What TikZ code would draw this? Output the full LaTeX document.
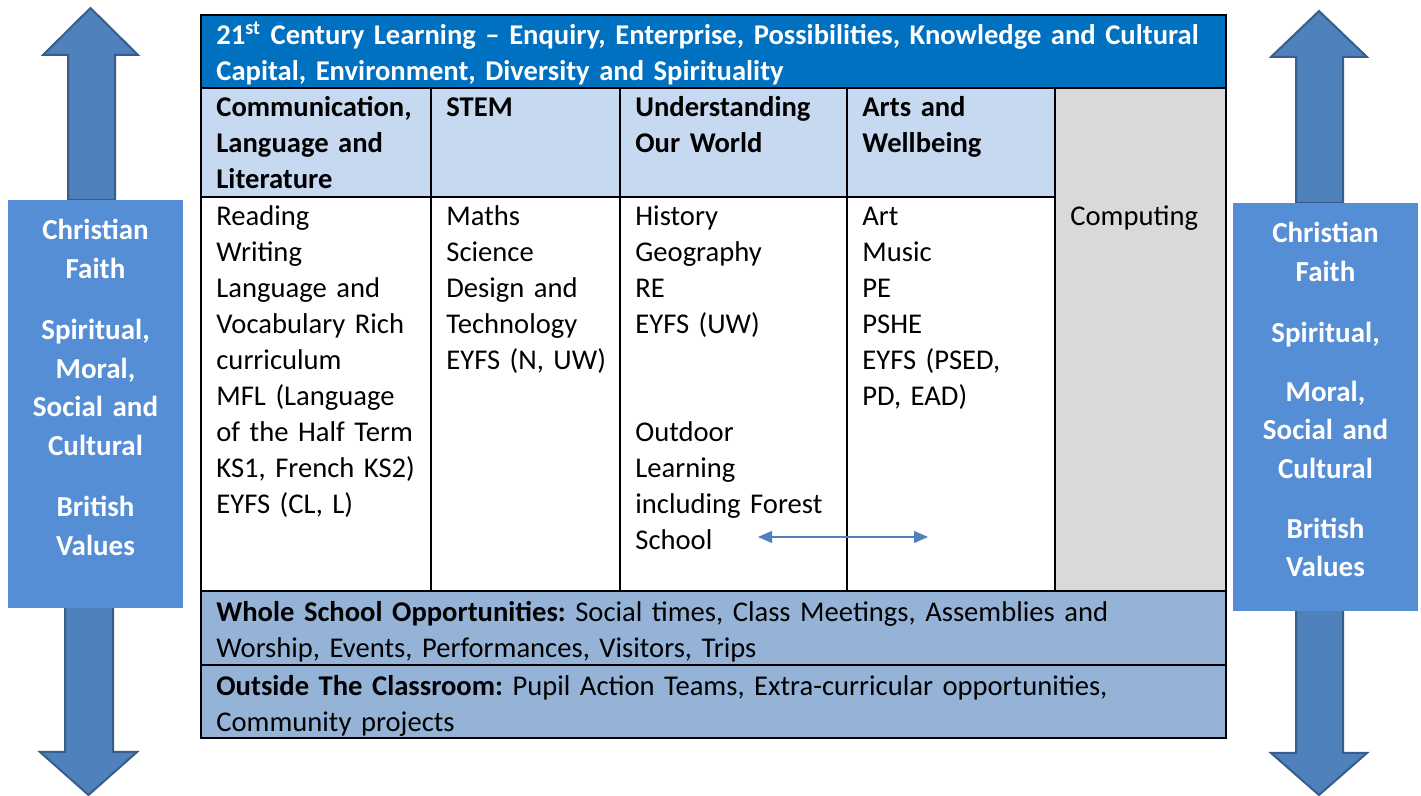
\documentclass[tikz,border=0pt]{standalone}
\usepackage{fontspec}
\setmainfont{Carlito}
\frenchspacing
\usetikzlibrary{arrows.meta}
\definecolor{titleblue}{HTML}{0070C0}
\definecolor{headblue}{HTML}{C6D9F1}
\definecolor{rowblue}{HTML}{95B3D7}
\definecolor{panelblue}{HTML}{558ED5}
\definecolor{arrowblue}{HTML}{4F81BD}
\definecolor{arrowedge}{HTML}{385D8A}
\definecolor{compgray}{HTML}{D9D9D9}
\newcommand{\bodyfont}{\fontsize{14.3}{18}\selectfont}
\newcommand{\panelfont}{\fontsize{14.5}{19.25}\selectfont\bfseries}
\tikzstyle{cell} = [anchor=base west, inner sep=0pt, align=left, text width=110pt, font=\bodyfont]
\tikzstyle{head} = [cell, font=\bodyfont\bfseries]
\tikzstyle{panel} = [anchor=base, inner sep=0pt, align=center, text width=85pt, font=\panelfont, text=white]
\tikzstyle{bigarrow} = [fill=arrowblue, draw=arrowedge, line width=1pt]
\tikzstyle{grid} = [line width=1pt, draw=black]
\tikzstyle{arrow} = [arrowblue, line width=0.6pt, {Triangle[length=7pt,width=6pt]}-{Triangle[length=7pt,width=6pt]}]

\begin{document}
\begin{tikzpicture}[x=0.5pt, y=-0.5pt]
        \useasboundingbox (0,0) rectangle (1421,796);

        % big arrows behind the side panels
        \draw[bigarrow] (68,200) -- (68,55) -- (43,55) -- (90.5,8) -- (138,55) -- (115,55) -- (115,200) -- cycle;
        \draw[bigarrow] (65,606) -- (65,752) -- (40,752) -- (88.5,795) -- (137,752) -- (113,752) -- (113,606) -- cycle;
        \draw[bigarrow] (1296,203) -- (1296,57) -- (1271,57) -- (1319,11) -- (1367,57) -- (1343,57) -- (1343,203) -- cycle;
        \draw[bigarrow] (1296,606) -- (1296,753) -- (1271,753) -- (1319,795) -- (1367,753) -- (1343,753) -- (1343,606) -- cycle;

        % side panels
        \fill[panelblue] (8,200) rectangle (183,608);
        \fill[panelblue] (1233,203) rectangle (1418,611);
        \node[panel] (leftvals) at (95.5,240) {Christian\\Faith\\[11.5pt]Spiritual,\\Moral,\\Social and\\Cultural\\[11.5pt]British\\Values};
        \node[panel] (rightvals) at (1325.5,243) {Christian\\Faith\\[11.25pt]Spiritual,\\[10.25pt]Moral,\\Social and\\Cultural\\[10.75pt]British\\Values};

        % table fills
        \fill[titleblue] (201,15) rectangle (1226,88);
        \fill[headblue] (201,88) rectangle (1055,197);
        \fill[compgray] (1055,88) rectangle (1226,591);
        \fill[rowblue] (201,591) rectangle (1226,738);

        % table lines
        \draw[grid] (201,15) rectangle (1226,738);
        \draw[grid] (201,88) -- (1226,88);
        \draw[grid] (201,197) -- (1055,197);
        \draw[grid] (201,591) -- (1226,591);
        \draw[grid] (201,665) -- (1226,665);
        \draw[grid] (431,88) -- (431,591);
        \draw[grid] (620,88) -- (620,591);
        \draw[grid] (847,88) -- (847,591);
        \draw[grid] (1055,88) -- (1055,591);

        % title and headings
        \node[head, text width=500pt, text=white] (title) at (216,45) {21\textsuperscript{st} Century Learning -- Enquiry, Enterprise, Possibilities, Knowledge and Cultural\\Capital, Environment, Diversity and Spirituality};
        \node[head] (hdcomm) at (216,117) {Communication,\\Language and\\Literature};
        \node[head] (hdstem) at (446,117) {STEM};
        \node[head] (hduw) at (635,117) {Understanding\\Our World};
        \node[head] (hdarts) at (862,117) {Arts and\\Wellbeing};

        % subjects
        \node[cell] (comm) at (216,226) {Reading\\Writing\\Language and\\Vocabulary Rich\\curriculum\\MFL (Language\\of the Half Term\\KS1, French KS2)\\EYFS (CL, L)};
        \node[cell] (stem) at (446,226) {Maths\\Science\\Design and\\Technology\\EYFS (N, UW)};
        \node[cell] (uw) at (635,226) {History\\Geography\\RE\\EYFS (UW)\\[36pt]Outdoor\\Learning\\including Forest\\School};
        \node[cell] (arts) at (862,226) {Art\\Music\\PE\\PSHE\\EYFS (PSED,\\PD, EAD)};
        \node[cell] (comp) at (1070,226) {Computing};

        \coordinate (fsL) at (758,537);
        \coordinate (fsR) at (928,537);
        \draw[arrow] (fsL) -- (fsR);

        % bottom rows
        \node[cell, text width=500pt] (whole) at (216,622) {\textbf{Whole School Opportunities:} Social times, Class Meetings, Assemblies and\\Worship, Events, Performances, Visitors, Trips};
        \node[cell, text width=500pt] (outside) at (216,696) {\textbf{Outside The Classroom:} Pupil Action Teams, Extra-curricular opportunities,\\Community projects};

    \end{tikzpicture}
\end{document}
